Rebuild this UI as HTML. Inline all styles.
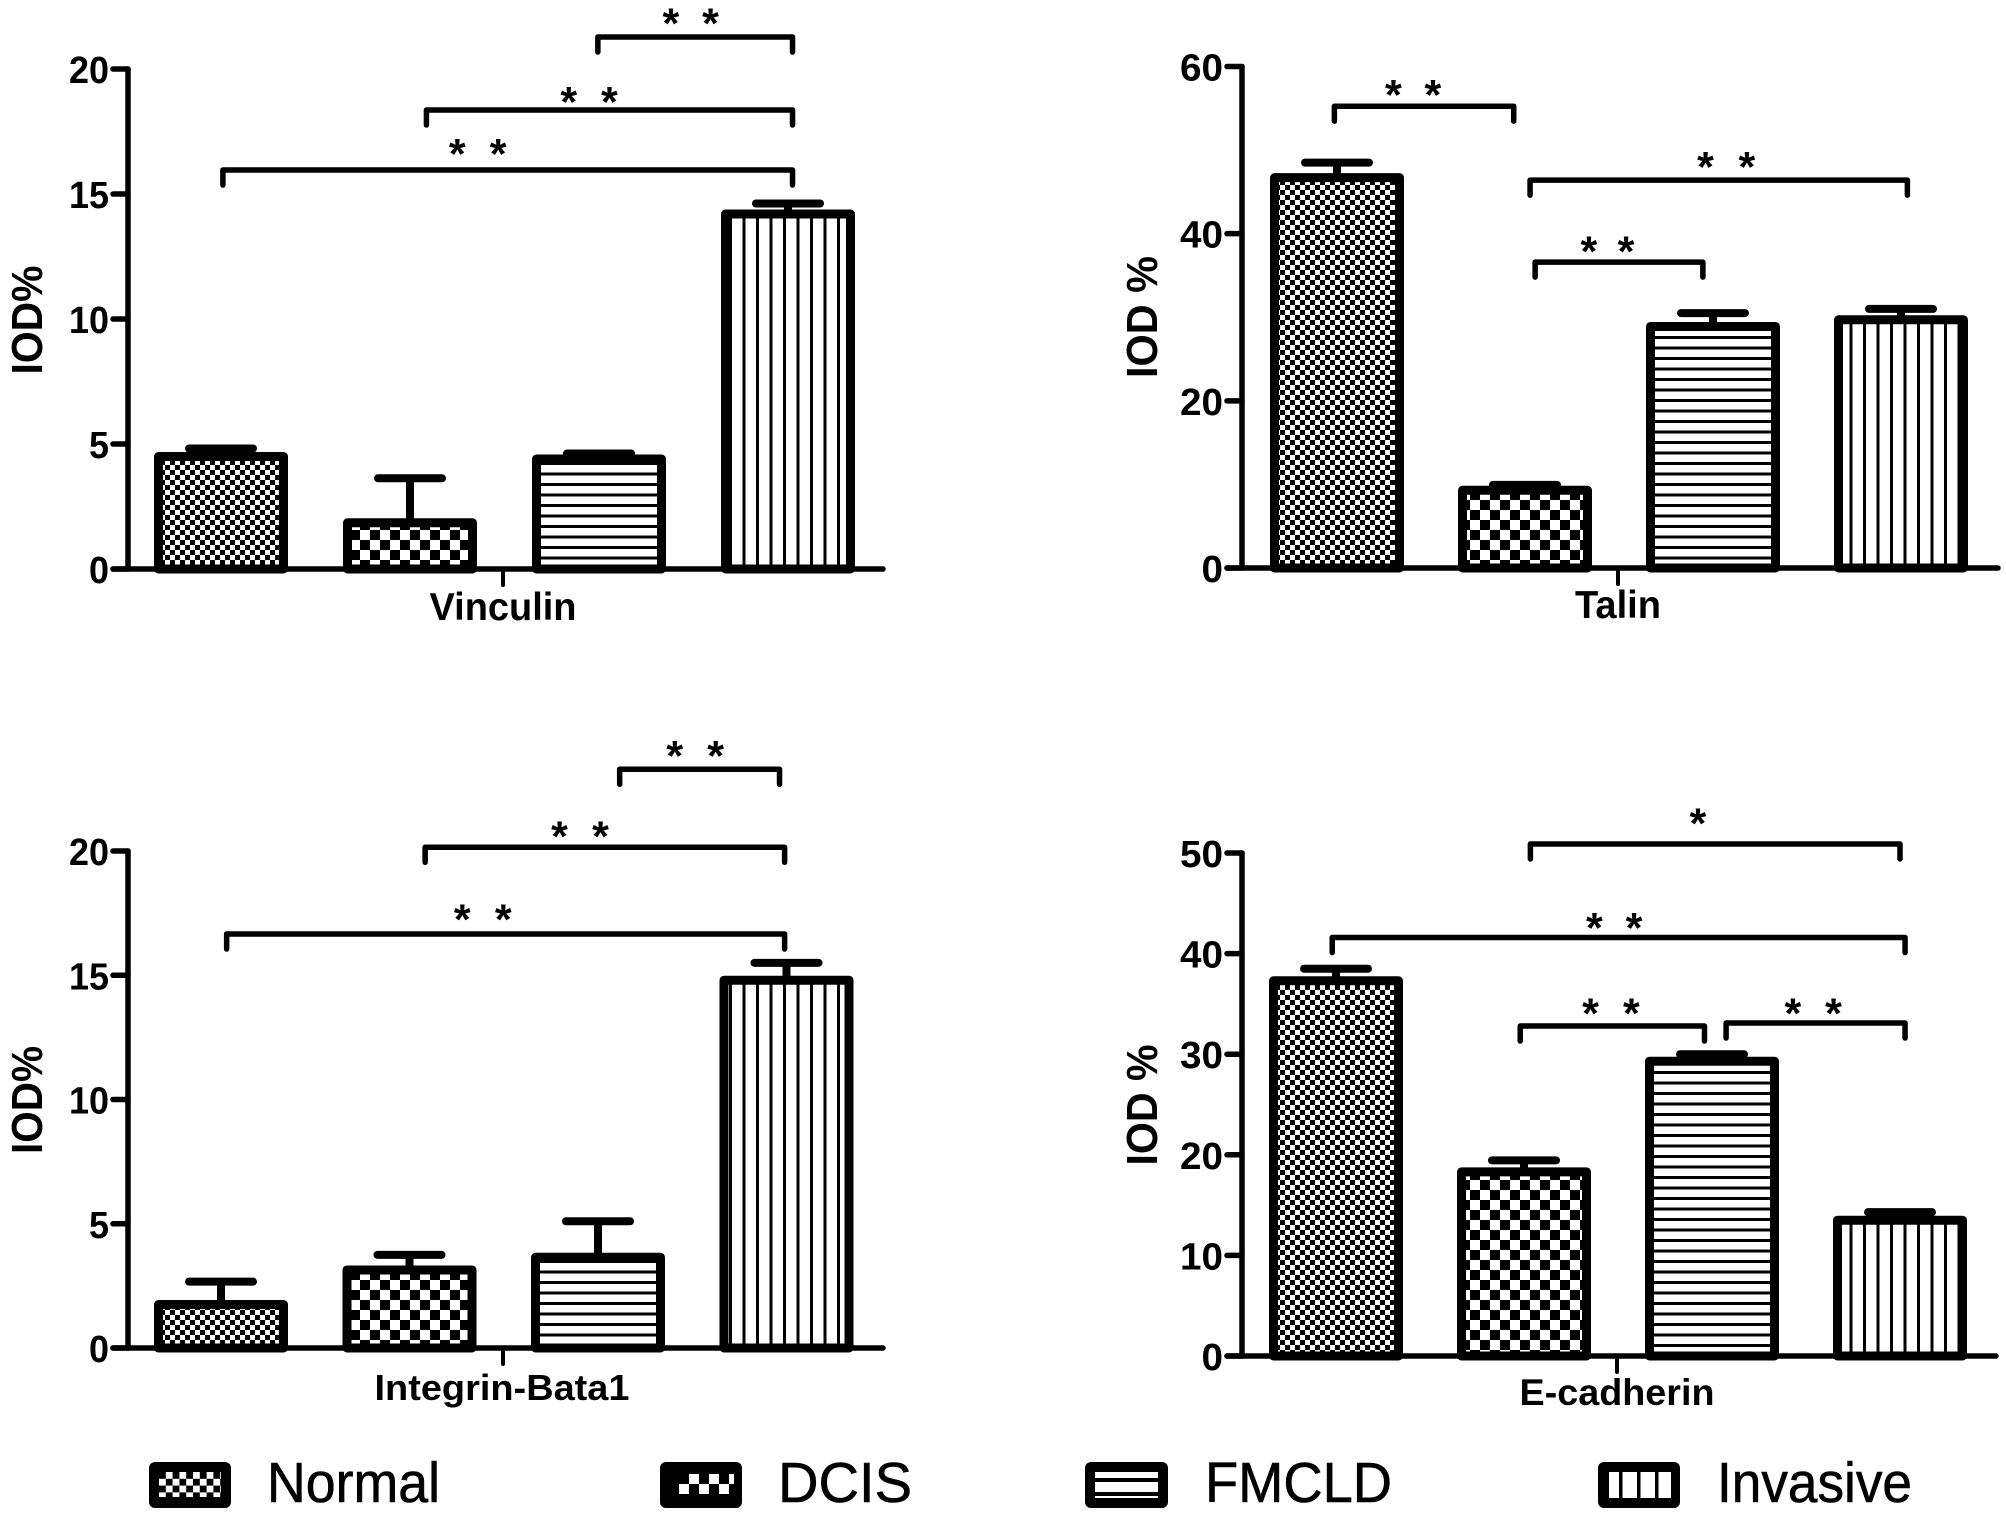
<!DOCTYPE html>
<html><head><meta charset="utf-8"><title>IOD% bar charts</title>
<style>
html,body{margin:0;padding:0;background:#fff;width:2006px;height:1521px;overflow:hidden}
svg{display:block}
text{font-family:"Liberation Sans",sans-serif;fill:#000}
</style></head>
<body>
<svg id="figure" xmlns="http://www.w3.org/2000/svg" width="2006" height="1521" viewBox="0 0 2006 1521">
<defs>
<pattern id="p-normal" patternUnits="userSpaceOnUse" width="10" height="10"><rect width="10" height="10" fill="#fff"/><rect width="5" height="5" fill="#000"/><rect x="5" y="5" width="5" height="5" fill="#000"/></pattern>
<pattern id="p-dcis" patternUnits="userSpaceOnUse" width="20" height="20"><rect width="20" height="20" fill="#fff"/><rect width="10" height="10" fill="#000"/><rect x="10" y="10" width="10" height="10" fill="#000"/></pattern>
<pattern id="p-fmcld" patternUnits="userSpaceOnUse" width="10.5" height="10.5"><rect width="10.5" height="10.5" fill="#fff"/><rect width="10.5" height="3" fill="#000"/></pattern>
<pattern id="p-invasive" patternUnits="userSpaceOnUse" width="13.5" height="13.5"><rect width="13.5" height="13.5" fill="#fff"/><rect width="3" height="13.5" fill="#000"/></pattern>
<pattern id="l-normal" patternUnits="userSpaceOnUse" width="13.6" height="13.6" x="159" y="1472"><rect width="13.6" height="13.6" fill="#fff"/><rect width="6.8" height="6.8" fill="#000"/><rect x="6.8" y="6.8" width="6.8" height="6.8" fill="#000"/></pattern>
<pattern id="l-dcis" patternUnits="userSpaceOnUse" width="20" height="20" x="679" y="1474"><rect width="20" height="20" fill="#fff"/><rect width="10" height="10" fill="#000"/><rect x="10" y="10" width="10" height="10" fill="#000"/></pattern>
<pattern id="l-fmcld" patternUnits="userSpaceOnUse" width="14" height="14" x="1096" y="1478"><rect width="14" height="14" fill="#fff"/><rect width="14" height="4" fill="#000"/></pattern>
<pattern id="l-invasive" patternUnits="userSpaceOnUse" width="18" height="18" x="1619" y="1472"><rect width="18" height="18" fill="#fff"/><rect width="3.5" height="18" fill="#000"/></pattern>
</defs>

<g>
  <g>
    <rect x="149" y="1462" width="82" height="46" rx="6" fill="#000"/>
    <rect x="159" y="1472" width="62" height="25" fill="url(#l-normal)"/>
    <text x="267" y="1502" font-size="57" stroke="#000" stroke-width="0.6" textLength="173" lengthAdjust="spacingAndGlyphs">Normal</text>
  </g>
  <g>
    <rect x="660" y="1462" width="82" height="46" rx="6" fill="#000"/>
    <rect x="679" y="1474" width="55" height="20" fill="url(#l-dcis)"/>
    <text x="778" y="1502" font-size="57" stroke="#000" stroke-width="0.6" textLength="134" lengthAdjust="spacingAndGlyphs">DCIS</text>
  </g>
  <g>
    <rect x="1085" y="1462" width="83" height="46" rx="6" fill="#000"/>
    <rect x="1095" y="1472" width="63" height="26" fill="url(#l-fmcld)"/>
    <text x="1205" y="1502" font-size="57" stroke="#000" stroke-width="0.6" textLength="187" lengthAdjust="spacingAndGlyphs">FMCLD</text>
  </g>
  <g>
    <rect x="1598" y="1462" width="82" height="46" rx="6" fill="#000"/>
    <rect x="1609" y="1472" width="62" height="26" fill="url(#l-invasive)"/>
    <text x="1717" y="1502" font-size="57" stroke="#000" stroke-width="0.6" textLength="195" lengthAdjust="spacingAndGlyphs">Invasive</text>
  </g>
</g>
</svg>

<script>
const categories = ['Normal', 'DCIS', 'FMCLD', 'Invasive'];

const vinculinMeans = [4.5, 1.85, 4.4, 14.2];
const vinculinErrors = [0.32, 1.78, 0.22, 0.42];
const vinculinTicks = [0, 5, 10, 15, 20];
const vinculinBrackets = [[1.994, 3.024, 21.28, [2.38, 2.59], 22.0], [1.087, 3.024, 18.36, [1.84, 2.055], 18.87], [0.01, 3.024, 15.96, [1.25, 1.466], 16.78]];

const talinMeans = [46.7, 9.3, 28.9, 29.7];
const talinErrors = [1.8, 0.65, 1.6, 1.3];
const talinTicks = [0, 20, 40, 60];
const talinBrackets = [[-0.014, 0.94, 55.25, [0.3, 0.51], 57.1], [1.027, 3.034, 46.4, [1.96, 2.18], 48.5], [1.054, 1.946, 36.6, [1.34, 1.537], 38.4]];

const integrinMeans = [1.75, 3.14, 3.65, 14.8];
const integrinErrors = [0.92, 0.61, 1.45, 0.7];
const integrinTicks = [0, 5, 10, 15, 20];
const integrinBrackets = [[2.115, 2.963, 23.29, [2.407, 2.624], 24.01], [1.083, 2.99, 20.15, [1.796, 2.013], 20.77], [0.03, 2.99, 16.66, [1.28, 1.497], 17.43]];

const ecadherinMeans = [37.3, 18.3, 29.3, 13.5];
const ecadherinErrors = [1.2, 1.15, 0.7, 0.8];
const ecadherinTicks = [0, 10, 20, 30, 40, 50];
const ecadherinBrackets = [[1.034, 3.0, 50.9, [1.925], 53.4], [-0.02, 3.027, 41.6, [1.374, 1.585], 43.0], [0.98, 1.96, 32.8, [1.354, 1.571], 34.5], [2.075, 3.027, 33.1, [2.43, 2.646], 34.5]];

const NS = 'http://www.w3.org/2000/svg';
const figure = document.getElementById('figure');
const fills = ['url(#p-normal)', 'url(#p-dcis)', 'url(#p-fmcld)', 'url(#p-invasive)'];

function make(parent, tag, attrs) {
  const el = document.createElementNS(NS, tag);
  for (const k in attrs) el.setAttribute(k, attrs[k]);
  parent.appendChild(el);
  return el;
}

function drawPanel(p) {
  const yScale = v => p.y0 - (v / p.max) * (p.y0 - p.yTop);
  const xBar = i => p.barLeft + i * p.pitch;
  const xCenter = u => p.barLeft + p.barW / 2 + u * p.pitch;
  const sw = 9;

  const g = make(figure, 'g', {});
  
  

  p.means.forEach((m, i) => {
    const cx = xCenter(i);
    const top = yScale(m + p.errors[i]);
    const stem = make(g, 'line', { x1: cx, x2: cx, y1: yScale(m), y2: top, stroke: '#000', 'stroke-width': 8 });
    
    
    const cap = make(g, 'line', { x1: cx - 32, x2: cx + 32, y1: top, y2: top, stroke: '#000', 'stroke-width': 8, 'stroke-linecap': 'round' });
    
    
    const bar = make(g, 'rect', { x: xBar(i) + sw / 2, width: p.barW - sw, y: yScale(m), height: p.y0 - yScale(m), fill: fills[i], stroke: '#000', 'stroke-width': sw, 'stroke-linejoin': 'round' });
    
    
  });

  const yAxis = make(g, 'line', { x1: p.axisX, x2: p.axisX, y1: yScale(p.max), y2: p.y0, stroke: '#000', 'stroke-width': 5.5, 'stroke-linecap': 'round' });
  
  
  const xAxis = make(g, 'line', { x1: p.axisX - 15, x2: p.xEnd, y1: p.y0, y2: p.y0, stroke: '#000', 'stroke-width': 5.5, 'stroke-linecap': 'round' });
  
  
  const xTick = make(g, 'line', { x1: p.xTick, x2: p.xTick, y1: p.y0, y2: p.y0 + 16, stroke: '#000', 'stroke-width': 4, 'stroke-linecap': 'round' });
  
  

  p.ticks.forEach(t => {
    const y = yScale(t);
    const tick = make(g, 'line', { x1: p.axisX - 15, x2: p.axisX, y1: y, y2: y, stroke: '#000', 'stroke-width': 5.5, 'stroke-linecap': 'round' });
    
    
    const s = String(t);
    const label = make(g, 'text', { x: p.axisX - 19, y: y + 14, 'font-size': 38, 'font-weight': 'bold', 'text-anchor': 'end', textLength: s.length * p.digitW, lengthAdjust: 'spacingAndGlyphs' });
    label.textContent = s;
    
    
  });

  const yTitle = make(g, 'text', { transform: 'translate(' + p.titleX + ' ' + p.titleY + ') rotate(-90)', 'font-size': 44, 'font-weight': 'bold', 'text-anchor': 'middle', textLength: p.titleLen, lengthAdjust: 'spacingAndGlyphs' });
  yTitle.textContent = p.yTitle;
  
  

  const xTitle = make(g, 'text', { x: p.xLabelX, y: p.xLabelY, 'font-size': p.xLabelSize, 'font-weight': 'bold', 'text-anchor': 'middle', textLength: p.xLabelLen, lengthAdjust: 'spacingAndGlyphs' });
  xTitle.textContent = p.xLabel;
  
  

  p.brackets.forEach(b => {
    const x1 = xCenter(b[0]), x2 = xCenter(b[1]), y = yScale(b[2]);
    const path = make(g, 'path', { d: 'M' + x1 + ' ' + (y + 15) + 'V' + y + 'H' + x2 + 'V' + (y + 15), fill: 'none', stroke: '#000', 'stroke-width': 5.5, 'stroke-linecap': 'round', 'stroke-linejoin': 'round' });
    
    
    b[3].forEach(u => {
      const star = make(g, 'text', { x: xCenter(u), y: yScale(b[4]) + 19, 'font-size': 43, 'font-weight': 'bold', 'text-anchor': 'middle' });
      star.textContent = '*';
      
      
    });
  });
}

drawPanel({ name: 'vinculin', means: vinculinMeans, errors: vinculinErrors, ticks: vinculinTicks, brackets: vinculinBrackets, max: 20, axisX: 128, y0: 569, yTop: 69, xEnd: 883, xTick: 503, barLeft: 154, barW: 134, pitch: 189, digitW: 20, yTitle: 'IOD%', titleX: 42, titleY: 320, titleLen: 109, xLabel: 'Vinculin', xLabelX: 503, xLabelY: 620, xLabelSize: 39, xLabelLen: 147 });
drawPanel({ name: 'talin', means: talinMeans, errors: talinErrors, ticks: talinTicks, brackets: talinBrackets, max: 60, axisX: 1242, y0: 568, yTop: 66.5, xEnd: 1998, xTick: 1618, barLeft: 1270, barW: 134, pitch: 188, digitW: 21.5, yTitle: 'IOD %', titleX: 1157, titleY: 317, titleLen: 122, xLabel: 'Talin', xLabelX: 1618, xLabelY: 618, xLabelSize: 39, xLabelLen: 86 });
drawPanel({ name: 'integrin-beta1', means: integrinMeans, errors: integrinErrors, ticks: integrinTicks, brackets: integrinBrackets, max: 20, axisX: 128, y0: 1348, yTop: 851, xEnd: 883, xTick: 503, barLeft: 154, barW: 134, pitch: 188.5, digitW: 20, yTitle: 'IOD%', titleX: 42, titleY: 1100, titleLen: 108, xLabel: 'Integrin-Bata1', xLabelX: 502, xLabelY: 1400, xLabelSize: 36, xLabelLen: 255 });
drawPanel({ name: 'e-cadherin', means: ecadherinMeans, errors: ecadherinErrors, ticks: ecadherinTicks, brackets: ecadherinBrackets, max: 50, axisX: 1242, y0: 1356, yTop: 853, xEnd: 1996, xTick: 1617, barLeft: 1269, barW: 134, pitch: 188, digitW: 21.5, yTitle: 'IOD %', titleX: 1157, titleY: 1105, titleLen: 121, xLabel: 'E-cadherin', xLabelX: 1617, xLabelY: 1405, xLabelSize: 37, xLabelLen: 195 });
</script>
</body></html>
